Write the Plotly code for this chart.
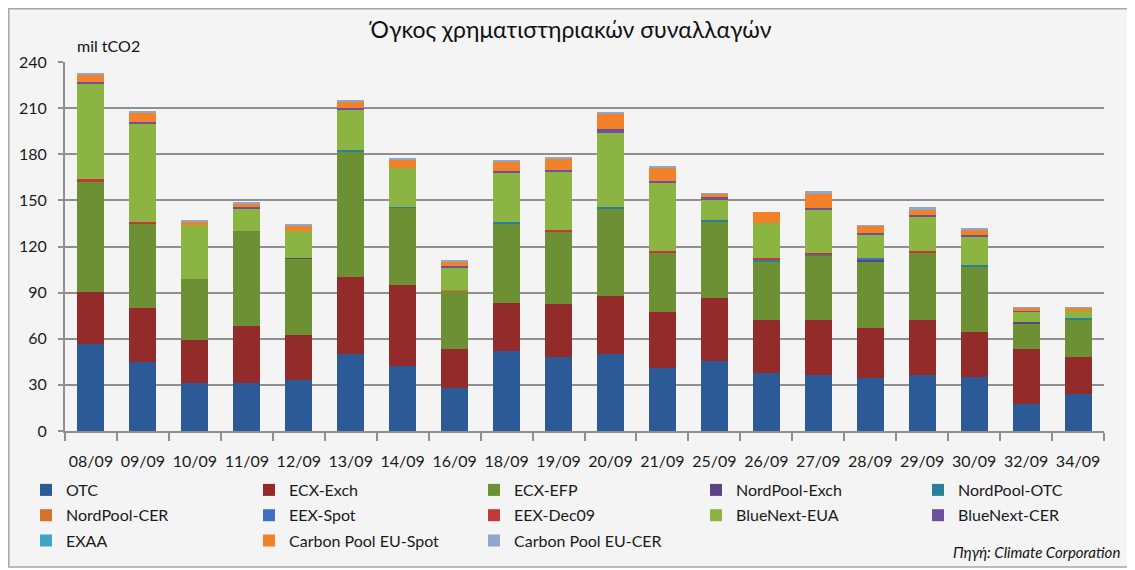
import plotly.graph_objects as go

# dates (week/year labels as in the source)
dates = ["08/09", "09/09", "10/09", "11/09", "12/09", "13/09", "14/09", "16/09",
         "18/09", "19/09", "20/09", "21/09", "25/09", "26/09", "27/09", "28/09",
         "29/09", "30/09", "32/09", "34/09"]

# volumes, mil tCO2
otc = [56.7, 45.0, 31.3, 31.3, 33.3, 50.2, 42.0, 28.0, 52.2, 48.3,
       50.2, 40.7, 45.7, 37.8, 36.5, 34.6, 36.5, 35.2, 17.6, 24.1]
ecx_exch = [33.5, 35.2, 28.0, 36.7, 29.3, 50.2, 53.2, 25.5, 31.3, 34.5,
            37.8, 36.9, 40.6, 34.6, 35.9, 32.6, 35.9, 29.4, 35.9, 24.2]
ecx_efp = [71.8, 54.6, 39.8, 61.8, 49.8, 81.1, 50.0, 37.8, 51.5, 46.5,
           57.0, 38.5, 50.0, 38.0, 41.7, 43.0, 43.7, 42.4, 16.3, 24.1]
nordpool_exch = [0, 0, 0, 0, 0.4, 0, 0, 0, 0, 0,
                 0, 0, 0, 0, 0, 1.1, 0, 0, 1.3, 0]
nordpool_otc = [0.5, 0, 0, 0, 0, 1.0, 0.5, 0, 1.1, 0,
                0.6, 0, 0.7, 0.9, 0.9, 0, 0, 0.7, 0, 0.9]
nordpool_cer = [0, 0, 0, 0, 0, 0, 0, 0.6, 0, 0,
                0, 0, 0, 0, 0, 0, 0, 0, 0, 0]
eex_spot = [0, 0, 0, 0, 0, 0, 0, 0, 0, 0,
            0, 0, 0, 0, 0, 0.9, 0, 0, 0, 0]
eex_dec09 = [1.2, 1.3, 0, 0, 0, 0, 0, 0, 0, 1.5,
             0, 1.3, 0, 0.9, 1.1, 0, 1.3, 0, 0, 0]
bluenext_eua = [62.6, 64.1, 35.2, 15.0, 17.0, 26.6, 25.4, 13.8, 31.5, 38.1,
                48.1, 44.3, 13.4, 22.8, 27.4, 15.6, 22.2, 18.8, 6.5, 5.0]
bluenext_cer = [1.0, 1.0, 0, 0.6, 0, 1.3, 0, 1.3, 1.7, 0.9,
                2.6, 0.7, 1.5, 0, 1.5, 1.3, 0.7, 1.3, 0.7, 0]
exaa = [0, 0, 0, 0, 0, 0, 0, 0, 0, 0,
        0, 0, 0, 0, 0, 0, 0, 0, 0, 0]
cp_spot = [4.0, 5.4, 1.7, 2.4, 3.5, 3.5, 5.2, 3.0, 5.7, 7.6,
           10.2, 8.7, 2.4, 7.2, 9.1, 4.6, 3.3, 3.0, 1.7, 1.7]
cp_cer = [1.7, 1.3, 1.3, 1.3, 1.5, 1.7, 1.5, 1.3, 1.5, 1.1,
          1.3, 1.5, 0.4, 0, 1.7, 0.2, 2.0, 1.5, 0.3, 0.2]

series = [
    ("OTC", otc, "#2C5A96"),
    ("ECX-Exch", ecx_exch, "#932B2A"),
    ("ECX-EFP", ecx_efp, "#6D9034"),
    ("NordPool-Exch", nordpool_exch, "#5B447F"),
    ("NordPool-OTC", nordpool_otc, "#2A809A"),
    ("NordPool-CER", nordpool_cer, "#D6722B"),
    ("EEX-Spot", eex_spot, "#3A72BF"),
    ("EEX-Dec09", eex_dec09, "#C23A37"),
    ("BlueNext-EUA", bluenext_eua, "#8CB443"),
    ("BlueNext-CER", bluenext_cer, "#6F509B"),
    ("EXAA", exaa, "#3CA7C5"),
    ("Carbon Pool EU-Spot", cp_spot, "#F2822A"),
    ("Carbon Pool EU-CER", cp_cer, "#8FA7C9"),
]

font = "Lato, 'Noto Sans', sans-serif"

# page has an 8px body margin, so the figure is laid out 8px smaller
W, H = 1127, 562
L, T, PW, PH = 57, 54, 1039, 369


def px(x):
    return (x - L) / PW


def py(y):
    return (T + PH - y) / PH


fig = go.Figure()
legend_names = ["legend", "legend2", "legend3", "legend4", "legend5"]
for i, (name, vals, color) in enumerate(series):
    fig.add_trace(go.Bar(x=dates, y=vals, name=name, legendgroup=name,
                         legend=legend_names[i % 5],
                         marker=dict(color=color, line=dict(width=0))))

fig.update_layout(
    barmode="stack",
    bargap=0.48,
    width=W, height=H,
    margin=dict(l=L, r=W - L - PW, t=T, b=H - T - PH, autoexpand=False),
    paper_bgcolor="white",
    plot_bgcolor="rgba(0,0,0,0)",
    font=dict(family=font, size=16, color="#1a1a1a"),
    title=dict(text="Όγκος χρηματιστηριακών συναλλαγών",
               x=0.4996, xref="container", y=1 - 22 / H, yanchor="middle",
               font=dict(size=23, color="#111")),
    showlegend=True,
)

col_x = [18, 241, 466, 688, 910]
for lg, cx in zip(legend_names, col_x):
    fig.update_layout({lg: dict(orientation="v", x=px(cx), xanchor="left",
                                y=py(465), yanchor="top", tracegroupgap=1.5,
                                font=dict(size=16), bgcolor="rgba(0,0,0,0)",
                                itemclick=False, itemdoubleclick=False)})

fig.update_yaxes(range=[0, 240], dtick=30, showgrid=True, gridcolor="#8F8F8F",
                 gridwidth=2, showline=True, linecolor="#8F8F8F", linewidth=2,
                 ticks="outside", ticklen=5, tickcolor="#8F8F8F", tickwidth=2,
                 ticklabelstandoff=8, zeroline=False, tickfont=dict(size=16))
fig.update_xaxes(showline=True, linecolor="#8F8F8F", linewidth=2,
                 ticks="outside", tickson="boundaries", ticklen=8,
                 tickcolor="#8F8F8F", tickwidth=2, ticklabelstandoff=15,
                 tickangle=0, tickfont=dict(size=16))

# chart frame (light gray area with border)
fig.add_shape(type="rect", xref="paper", yref="paper",
              x0=px(0.8), x1=px(1122), y0=py(559), y1=py(0.8),
              fillcolor="#F4F4F4", line=dict(color="#A6A6A6", width=1.5),
              layer="below")

fig.add_annotation(text="mil tCO2", xref="paper", yref="paper",
                   x=px(67), y=py(37), xanchor="left", yanchor="middle",
                   showarrow=False, font=dict(size=16, color="#111"))
fig.add_annotation(text="<i>Πηγή: Climate Corporation</i>", xref="paper", yref="paper",
                   x=px(1114), y=py(544), xanchor="right", yanchor="middle",
                   showarrow=False, font=dict(size=15, color="#111"))

fig.write_html("out.html")
